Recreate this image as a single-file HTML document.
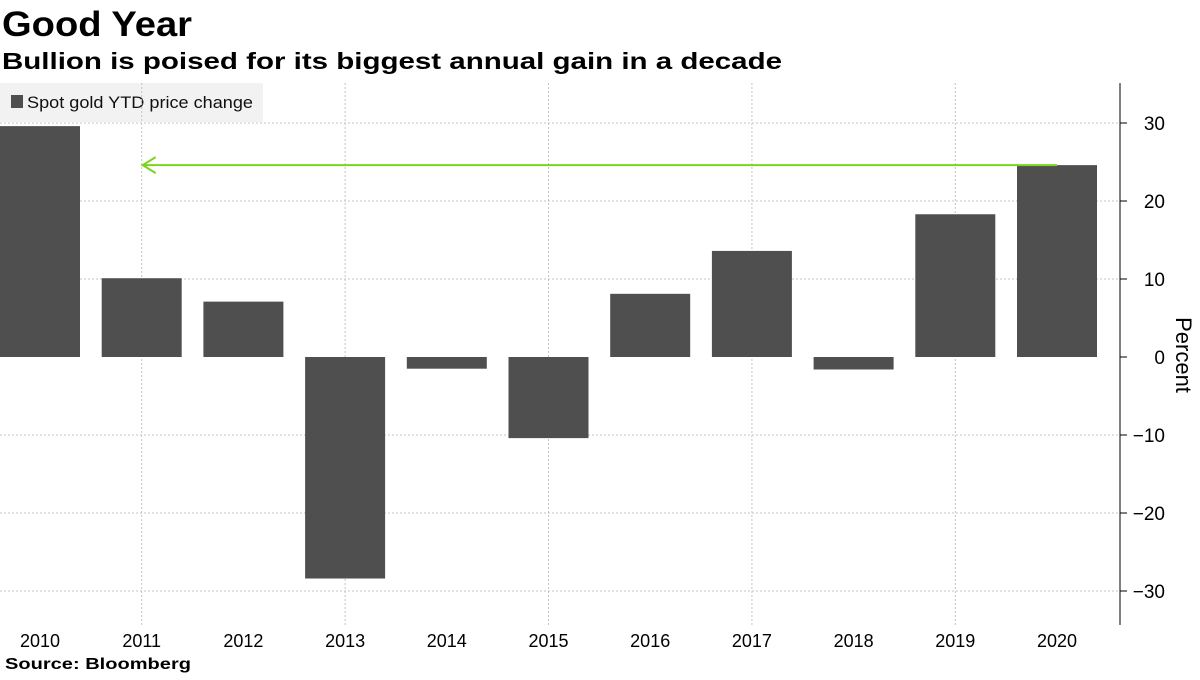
<!DOCTYPE html>
<html><head><meta charset="utf-8"><style>
body{margin:0;width:1200px;height:675px;background:#fff;overflow:hidden;font-family:"Liberation Sans","DejaVu Sans",sans-serif}
</style></head><body>
<svg width="1200" height="675" xmlns="http://www.w3.org/2000/svg">
<text x="2" y="36" font-size="35" font-weight="bold" fill="#000" textLength="190" lengthAdjust="spacingAndGlyphs">Good Year</text>
<text x="2" y="69" font-size="23" font-weight="bold" fill="#000" textLength="780" lengthAdjust="spacingAndGlyphs">Bullion is poised for its biggest annual gain in a decade</text>
<g id="grid"></g>
<rect x="0" y="83" width="263" height="39" fill="#f2f2f2"/>
<rect x="11" y="95" width="12" height="13" fill="#4f4f4f"/>
<text x="27" y="108" font-size="17" fill="#111" textLength="226" lengthAdjust="spacingAndGlyphs">Spot gold YTD price change</text>
<g id="vgrid"></g>
<g id="bars"></g>
<g id="arrow"></g>
<line x1="1120" y1="83" x2="1120" y2="625" stroke="#000" stroke-width="1"/>
<g id="yticks"></g>
<g id="xticks"></g>
<text transform="translate(1176,355) rotate(90)" font-size="22" text-anchor="middle" fill="#000">Percent</text>
<text x="5" y="669" font-size="16" font-weight="bold" fill="#000" textLength="186" lengthAdjust="spacingAndGlyphs">Source:  Bloomberg</text>
</svg>
<script>
const categories=["2010","2011","2012","2013","2014","2015","2016","2017","2018","2019","2020"];
const values=[29.6,10.1,7.1,-28.4,-1.5,-10.4,8.1,13.6,-1.6,18.3,24.6];
const yTicks=[30,20,10,0,-10,-20,-30];
const arrowValue=24.6;
const NS="http://www.w3.org/2000/svg";
const y=v=>357-v*7.8;
const x=i=>40+i*101.7;
const bw=80;
function mk(t,a,p){const e=document.createElementNS(NS,t);for(const k in a)e.setAttribute(k,a[k]);p.appendChild(e);return e;}
const grid=document.getElementById('grid'),vg=document.getElementById('vgrid'),bars=document.getElementById('bars'),yt=document.getElementById('yticks'),xt=document.getElementById('xticks'),ar=document.getElementById('arrow');
yTicks.forEach(v=>{
  if(v!==0){const l=mk('line',{x1:0,x2:1120,y1:y(v),y2:y(v),stroke:'#c4c4c4','stroke-dasharray':'2,2'},grid);
  
  }
  const tk=mk('line',{x1:1120,x2:1127,y1:y(v),y2:y(v),stroke:'#000'},yt);
  
  
  const t=mk('text',{x:1165,y:y(v)+7,'font-size':19,'text-anchor':'end',fill:'#000'},yt);
  t.textContent=v<0?'\u2212'+(-v):String(v);
  
  
});
categories.forEach((c,i)=>{
  if(i%2===1){const l=mk('line',{x1:x(i),x2:x(i),y1:83,y2:625,stroke:'#c4c4c4','stroke-dasharray':'2,2'},vg);
  
  }
  const v=values[i];
  const r=mk('rect',{x:x(i)-bw/2,y:Math.min(y(v),y(0)),width:bw,height:Math.abs(y(v)-y(0)),fill:'#4f4f4f'},bars);
  
  
  const t=mk('text',{x:x(i),y:647,'font-size':18,'text-anchor':'middle',fill:'#000'},xt);
  t.textContent=c;
  
  
});
const ya=y(arrowValue);
const l=mk('line',{x1:x(1),x2:x(10),y1:ya,y2:ya,stroke:'#7ed321','stroke-width':2},ar);


const h=mk('polyline',{points:`${x(1)+14},${ya-8} ${x(1)+1},${ya} ${x(1)+14},${ya+8}`,fill:'none',stroke:'#7ed321','stroke-width':2},ar);


</script>
</body></html>
